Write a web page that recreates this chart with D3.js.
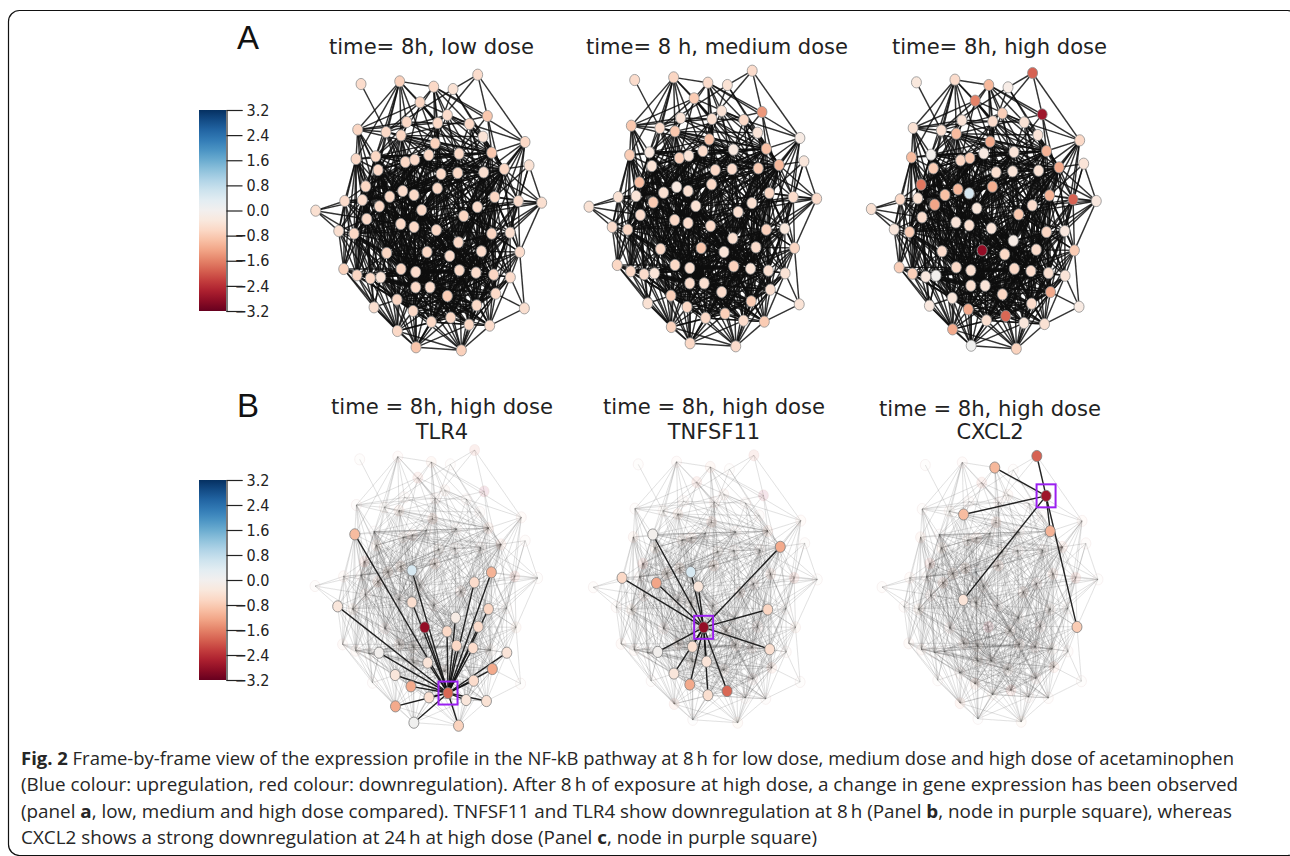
<!DOCTYPE html>
<html>
<head>
<meta charset="utf-8">
<script src="https://cdn.jsdelivr.net/npm/d3@7"></script>
<style>
  html, body { margin: 0; padding: 0; background: #fff; }
  svg { display: block; }
</style>
</head>
<body>
<svg id="fig" width="1290" height="856"></svg>
<script>
// node layout of the pathway graph (same graph in every panel)
var layoutX = [183,299,401,459,533,360,562,442,320,413,508,173,258,303,549,675,405,575,477,386,227,168,316,344,687,613,234,423,473,551,197,412,308,269,342,584,134,187,655,725,238,532,47,365,491,200,302,342,409,116,162,575,630,475,544,381,260,659,449,131,303,347,478,528,581,171,211,242,631,347,390,442,587,291,530,222,673,339,452,394,507,569,292,348,484];
var layoutY = [72,64,80,87,44,127,168,165,186,189,192,209,216,226,230,246,250,278,281,285,289,297,306,299,316,327,330,342,339,337,379,385,393,410,405,411,423,420,423,428,439,441,452,450,468,477,492,501,510,513,521,521,518,547,574,576,579,576,588,627,627,636,631,638,644,646,655,652,652,682,682,708,701,719,736,742,745,753,773,786,794,797,813,862,871];

// expression per node (log fold change)
var lowDose = [-.55,-.72,-.6,-.45,-.55,-.65,-.85,-.55,-.6,-.6,-.6,-.65,-.6,-.65,-.42,-.6,-.72,-.85,-.6,-.62,-.62,-.6,-.6,-.58,-.45,-.62,-.6,-.58,-.6,-.5,-.62,-.6,-.55,-.6,-.6,-.65,-.55,-.55,-.55,-.5,-.6,-.55,-.48,-.6,-.65,-.58,-.6,-.6,-.6,-.5,-.62,-.65,-.5,-.6,-.55,-.62,-.65,-.55,-.55,-.7,-.65,-.55,-.6,-.55,-.65,-.65,-.6,-.42,-.55,-.6,-.55,-.78,-.58,-.65,-.6,-.5,-.5,-.6,-.65,-.6,-.62,-.55,-.6,-.88,-.72];
var mediumDose = [-.55,-.65,-.55,-.45,-.55,-.8,-1.4,-.42,-.4,-.5,-.6,-.85,-.55,-.85,-.38,-.22,-.95,-.95,-.28,-.55,-.3,-.78,-.75,-.4,-.35,-1.05,-.42,-.6,-.55,-.8,-1.0,-.6,-.28,-.48,-.48,-.65,-.45,-.38,-.55,-.55,-.82,-.48,-.45,-.45,-.5,-.55,-.6,-.55,-.58,-.55,-.62,-.72,-.32,-.5,-.55,-.88,-.6,-.65,-.4,-.62,-.62,-.5,-.72,-.42,-.5,-.6,-.55,-.38,-.42,-.55,-.5,-.55,-.5,-.75,-.8,-.45,-.42,-.62,-.75,-.6,-.55,-.8,-.7,-.6,-.55];
var highDose = [-.32,-.55,-1.05,-.18,-1.9,-1.6,-2.7,-.75,-.4,-.55,-.45,-.45,-.5,-1.0,-.4,-.6,-1.2,-1.1,-.4,-.25,-.05,-1.0,-.65,-.85,-.4,-1.2,-.8,-.5,-.4,-.45,-1.7,-1.15,-1.05,-.95,.5,-1.1,-.6,-.45,-1.9,-.3,-1.25,-.55,-.45,-.35,-.85,-.55,-.4,-.5,-.4,-.35,-.8,-.65,-.3,-.2,-.55,-2.8,-.55,-.8,-.6,-.75,-.6,-.5,-.6,-.55,-.5,-.75,-.3,-.02,-.4,-.5,-.4,-.65,-1.2,-.35,-.55,-.3,-.25,-1.2,-1.85,-.5,-.35,-.45,-1.2,.05,-.7];

// adjacency: links[i] lists the neighbours of node i with a higher index
var links = [
  [12],
  [2,5,8,9,11,12,13,19,20,21,26],
  [5,6,7,9,10,15,13,16,18,27],
  [4,17,25,12,19],
  [6,9,15],
  [9,10,11,12,18,22,16,29],
  [13,17,46,57],
  [10,12,14,17,19,28,35],
  [9,11,20,18,17,26,33],
  [10,11,16,17,22,23,25,27,28,19,31,48],
  [15,17,18,25,29,14,35,41],
  [12,20,21,30,37,26,33,18,40],
  [13,18,20,22,32,45,43,17],
  [14,16,17,20,23,26,28,32,41,29,33,34,40,43,47,50],
  [17,25,18,28,35],
  [17,25,29,35,38,41,44,51,52],
  [17,18,20,22,31,27,33,40,26,28,29,35,43,44,46,47],
  [18,22,25,29,35,28,38,41,48,44,20,23,27,54,31,32,43,46,47,53],
  [19,20,22,25,27,28,29,31,32,44,23,33,34,35,41,43,46,47,48,51],
  [20,21,22,23,26,30,31,33,37,43,47,27,32,34,40,46,48,50,56],
  [21,22,23,26,30,33,37,40,45,50,28,31,55,56,58,32,34,43,46,47,60,61],
  [26,30,36,37,40,45,50,49,56,59,78,33,65],
  [23,26,30,32,33,34,25,40,31,43,27,28,29,37,46,47,48,56],
  [26,30,31,33,25,27,29,40,45,28,32,34,37,43,46,47,48,56],
  [38,39,25,52,35],
  [28,29,35,38,39,41,44,51,52,55,43,31,46,54,32,34,47,48,53,58,62,63],
  [30,33,37,40,45,50,32,34,46,56,31,43,47,48,60,61,69],
  [28,31,35,41,44,48,43,53,29,47,34,32,33,37,40,46,51,54,58,62],
  [29,31,35,41,44,48,53,43,32,33,34,47,51,54,58,62,63],
  [35,38,41,44,51,52,48,54,39,31,43,53,58,62,63,64],
  [33,36,37,40,45,49,50,56,60,32,46,59,31,43,47,61,65,66,69],
  [32,33,34,41,43,44,47,48,53,37,40,46,51,54,56,58,60,61,62,63],
  [33,34,40,43,46,47,48,45,50,56,37,53,58,60,61,62,69,70],
  [34,37,40,43,45,46,47,50,36,56,61,60,53,58,65,66,69,70],
  [43,47,48,55,78,46,40,58,60,37,50,53,56,61,62,63,69,70],
  [38,39,41,44,51,52,54,57,78,53,68,43,48,58,62,63,64,72],
  [37,42,45,49,50,55,59,65,40,56],
  [40,42,45,49,50,56,60,65,46,47,61,66,67,69,73],
  [39,41,44,51,52,54,57,63,64],
  [41,44,51,52,57,54],
  [43,45,46,47,50,55,56,60,61,65,66,69,48,53,58,67,70,73],
  [44,48,51,52,53,54,58,62,63,78,43,46,47,60,61,64,68,70,71,72,74],
  [45,49,50],
  [47,48,55,53,56,58,60,61,70,46,50,62,63,69,71,74],
  [48,51,52,53,54,57,58,62,63,64,68,72,74,46,47,60,61,69,70,71,73,77],
  [46,49,50,56,59,60,65,66,67,73,47,61,69,70,75],
  [47,48,50,56,60,61,53,69,58,62,63,70,71,73,77],
  [48,53,56,58,60,61,69,70,78,62,50,63,64,71,73,74,77],
  [51,53,54,58,62,63,70,71,74,50,56,60,61,64,69,72,77,79],
  [50,59,65,56,78,66],
  [56,59,60,61,65,66,67,69,73,75,82,58,70,77],
  [52,54,57,55,63,64,68,72,78,62,74,53,58,69,70,71,79,80],
  [54,57,64,68,72,63,53,58,62,71,74,80],
  [54,58,62,63,64,71,74,78,72,56,60,61,69,70,73,77,79,80],
  [57,58,62,63,64,68,72,74,78,81,60,61,69,70,71,79,80],
  [61,64,67,70,73,77,79,78],
  [60,61,65,66,67,69,70,73,75,82,77,58,62,63,71,79],
  [63,64,68,72,76,62,74],
  [61,62,63,70,71,74,79,78,69,64,60,66,67,72,73,77,80,81],
  [65,66,60,73,75,82,67],
  [61,67,69,70,73,77,82,71,83,62,63,64,65,66,74,79,80],
  [69,70,71,73,77,79,82,83,62,63,64,65,66,67,72,74,80,81],
  [63,64,71,72,74,78,79,80,81,84,70,65,66,67,69,73,77,83],
  [64,68,71,72,74,78,80,81,84,69,70,73,77,79,83],
  [68,72,74,80,81,71,69,70,73,77,79,84],
  [66,67,73,75,82,69,70,77],
  [67,73,75,82,77,69,70,71,79],
  [73,75,82,77,78,83,69,70,71,79],
  [72,74,76,81,78,80],
  [70,71,73,77,79,82,83,84,72,74,80,81],
  [71,73,77,79,78,83,84,74,72,80,81],
  [72,74,77,79,80,81,83,84,73,82],
  [74,76,78,80,81,84,79],
  [77,78,79,82,83,75,74,80],
  [78,80,81,84,79,77],
  [82,83],
  [81],
  [78,79,82,83,84],
  [79,80,81,82,83,84],
  [80,81,82,83,84],
  [81,83,84],
  [84],
  [83,84],
  [84],
  []
];

var colorTicks = [3.2,2.4,1.6,0.8,0.0,-0.8,-1.6,-2.4,-3.2];
var fullPanelTitles = ["time= 8h, low dose","time= 8 h, medium dose","time= 8h, high dose"];
var zoomPanelTitle = "time = 8h, high dose";
var zoomGenes = ["TLR4","TNFSF11","CXCL2"];
var zoomFocus = [78,55,6];

var svg = d3.select("#fig");
var color = d3.scaleSequential(d3.interpolateRdBu).domain([-3.2,3.2]);

var defs = svg.append("defs");
defs.append("filter").attr("id","soft").attr("x","-5%").attr("y","-5%").attr("width","110%").attr("height","110%")
  .append("feGaussianBlur").attr("stdDeviation",0.5);

var barGradient = defs.append("linearGradient").attr("id","bar")
  .attr("x1",0).attr("x2",0).attr("y1",1).attr("y2",0);
barGradient.selectAll("stop").data(d3.range(0,1.001,0.05)).enter().append("stop")
  .attr("offset",function(d){ return d; })
  .attr("stop-color",function(d){ return d3.interpolateRdBu(d); });

// outer frame
svg.append("rect").attr("x",8.5).attr("y",10.5).attr("width",1290).attr("height",845)
  .attr("rx",11).attr("fill","none").attr("stroke","#111").attr("stroke-width",1.2);

var edges = [];
links.forEach(function(targets,i){
  targets.forEach(function(j){ edges.push([i,j]); });
});

function panelScales(x0,x1,y0,y1){
  return {
    x: d3.scaleLinear().domain([47,725]).range([x0,x1]),
    y: d3.scaleLinear().domain([44,871]).range([y0,y1])
  };
}

function drawLines(g,data,s){
  return g.append("g").selectAll("line").data(data).enter().append("line")
    .attr("x1",function(d){ return s.x(layoutX[d[0]]); })
    .attr("y1",function(d){ return s.y(layoutY[d[0]]); })
    .attr("x2",function(d){ return s.x(layoutX[d[1]]); })
    .attr("y2",function(d){ return s.y(layoutY[d[1]]); });
}

function drawNodes(g,nodes,s){
  return g.append("g").selectAll("ellipse").data(nodes).enter().append("ellipse")
    .attr("cx",function(i){ return s.x(layoutX[i]); })
    .attr("cy",function(i){ return s.y(layoutY[i]); })
    .attr("rx",5).attr("ry",5.6);
}

function drawFull(values,s){
  var g = svg.append("g").attr("filter","url(#soft)");
  drawLines(g,edges,s)
    .attr("stroke","#111").attr("stroke-opacity",0.85).attr("stroke-width",1.45);
  drawNodes(g,d3.range(values.length),s)
    .attr("fill",function(i){ return color(values[i]); })
    .attr("stroke","#8f8f8f").attr("stroke-width",0.8);
}

function drawFocus(focus,s){
  var near = {};
  var hot = edges.filter(function(d){
    if(d[0]===focus){ near[d[1]] = true; return true; }
    if(d[1]===focus){ near[d[0]] = true; return true; }
    return false;
  });
  near[focus] = true;
  var ids = d3.range(highDose.length);
  var g = svg.append("g").attr("filter","url(#soft)");
  drawLines(g,edges,s)
    .attr("stroke","#444").attr("stroke-opacity",0.16).attr("stroke-width",1);
  drawNodes(g,ids.filter(function(i){ return !near[i]; }),s)
    .attr("fill",function(i){ return color(highDose[i]); }).attr("fill-opacity",0.1)
    .attr("stroke","#caa").attr("stroke-opacity",0.18).attr("stroke-width",0.8);
  drawLines(g,hot,s)
    .attr("stroke","#111").attr("stroke-opacity",0.9).attr("stroke-width",1.4);
  drawNodes(g,ids.filter(function(i){ return near[i]; }),s)
    .attr("fill",function(i){ return color(highDose[i]); })
    .attr("stroke","#7f7f7f").attr("stroke-width",0.8);
  svg.append("rect")
    .attr("x",s.x(layoutX[focus])-9.5).attr("y",s.y(layoutY[focus])-11.5)
    .attr("width",19).attr("height",23)
    .attr("fill","none").attr("stroke","#9a1ff0").attr("stroke-width",2);
}

function drawColorbar(top,bottom){
  var y = d3.scaleLinear().domain([-3.2,3.2]).range([bottom,top]);
  svg.append("rect").attr("x",199).attr("y",top).attr("width",27).attr("height",bottom-top)
    .attr("fill","url(#bar)");
  var axis = d3.axisRight(y).tickValues(colorTicks).tickSize(16).tickPadding(0)
    .tickFormat(d3.format(".1f"));
  var a = svg.append("g").attr("transform","translate(226.5,0)").call(axis);
  a.select(".domain").attr("stroke","#222").attr("stroke-width",1.2);
  a.selectAll(".tick line").attr("stroke","#222").attr("stroke-width",1.2);
  a.selectAll(".tick text")
    .attr("x",43).attr("text-anchor","end")
    .attr("font-family","'Liberation Sans Narrow','DejaVu Sans Condensed',sans-serif")
    .attr("font-size",16).attr("fill","#222");
}

function title(text,x0,x1,base){
  svg.append("text").attr("x",x0).attr("y",base)
    .attr("textLength",x1-x0).attr("lengthAdjust","spacingAndGlyphs")
    .attr("font-family","'DejaVu Sans',sans-serif").attr("font-size",21.5).attr("fill","#222")
    .text(text);
}
function centered(text,cx,base){
  svg.append("text").attr("x",cx).attr("y",base).attr("text-anchor","middle")
    .attr("font-family","'DejaVu Sans',sans-serif").attr("font-size",21).attr("fill","#222")
    .text(text);
}

// panel A
drawFull(lowDose,panelScales(315.7,541.7,74.7,350.3));
drawFull(mediumDose,panelScales(589,816.7,70.7,346.3));
drawFull(highDose,panelScales(871.3,1096.3,73,348.7));
// panel B
drawFocus(zoomFocus[0],panelScales(315,537.7,450,725.7));
drawFocus(zoomFocus[1],panelScales(593.3,817.3,455.3,722.7));
drawFocus(zoomFocus[2],panelScales(882,1098,456,721.7));

drawColorbar(110,311);
drawColorbar(480,680);

// headings
[["A",49],["B",417]].forEach(function(d){
  svg.append("text").attr("x",237).attr("y",d[1])
    .attr("font-family","'Liberation Sans',sans-serif").attr("font-size",33).attr("fill","#111").text(d[0]);
});
title(fullPanelTitles[0],329,534,54);
title(fullPanelTitles[1],586,848,54);
title(fullPanelTitles[2],892,1107,54);
title(zoomPanelTitle,331,553,414);
title(zoomPanelTitle,603,825,414);
title(zoomPanelTitle,879,1101,416);
centered(zoomGenes[0],442,439);
centered(zoomGenes[1],714,439);
centered(zoomGenes[2],990,439);

// caption, bold runs marked with a flag
var captionLines = [
  [[1,"Fig. 2"],[0," Frame-by-frame view of the expression profile in the NF-kB pathway at 8\u2009h for low dose, medium dose and high dose of acetaminophen"]],
  [[0,"(Blue colour: upregulation, red colour: downregulation). After 8\u2009h of exposure at high dose, a change in gene expression has been observed"]],
  [[0,"(panel "],[1,"a"],[0,", low, medium and high dose compared). TNFSF11 and TLR4 show downregulation at 8\u2009h (Panel "],[1,"b"],[0,", node in purple square), whereas"]],
  [[0,"CXCL2 shows a strong downregulation at 24\u2009h at high dose (Panel "],[1,"c"],[0,", node in purple square)"]]
];
var captionEnds = [1234,1238,1232,817];
var captionBase = [765,791,818,844];
captionLines.forEach(function(runs,k){
  var t = svg.append("text").attr("x",21).attr("y",captionBase[k])
    .attr("textLength",captionEnds[k]-21).attr("lengthAdjust","spacingAndGlyphs")
    .attr("font-family","'Open Sans',sans-serif").attr("font-size",18.5).attr("fill","#262626");
  runs.forEach(function(r){
    t.append("tspan").attr("font-weight",r[0]?700:400).text(r[1]);
  });
});
</script>
</body>
</html>
